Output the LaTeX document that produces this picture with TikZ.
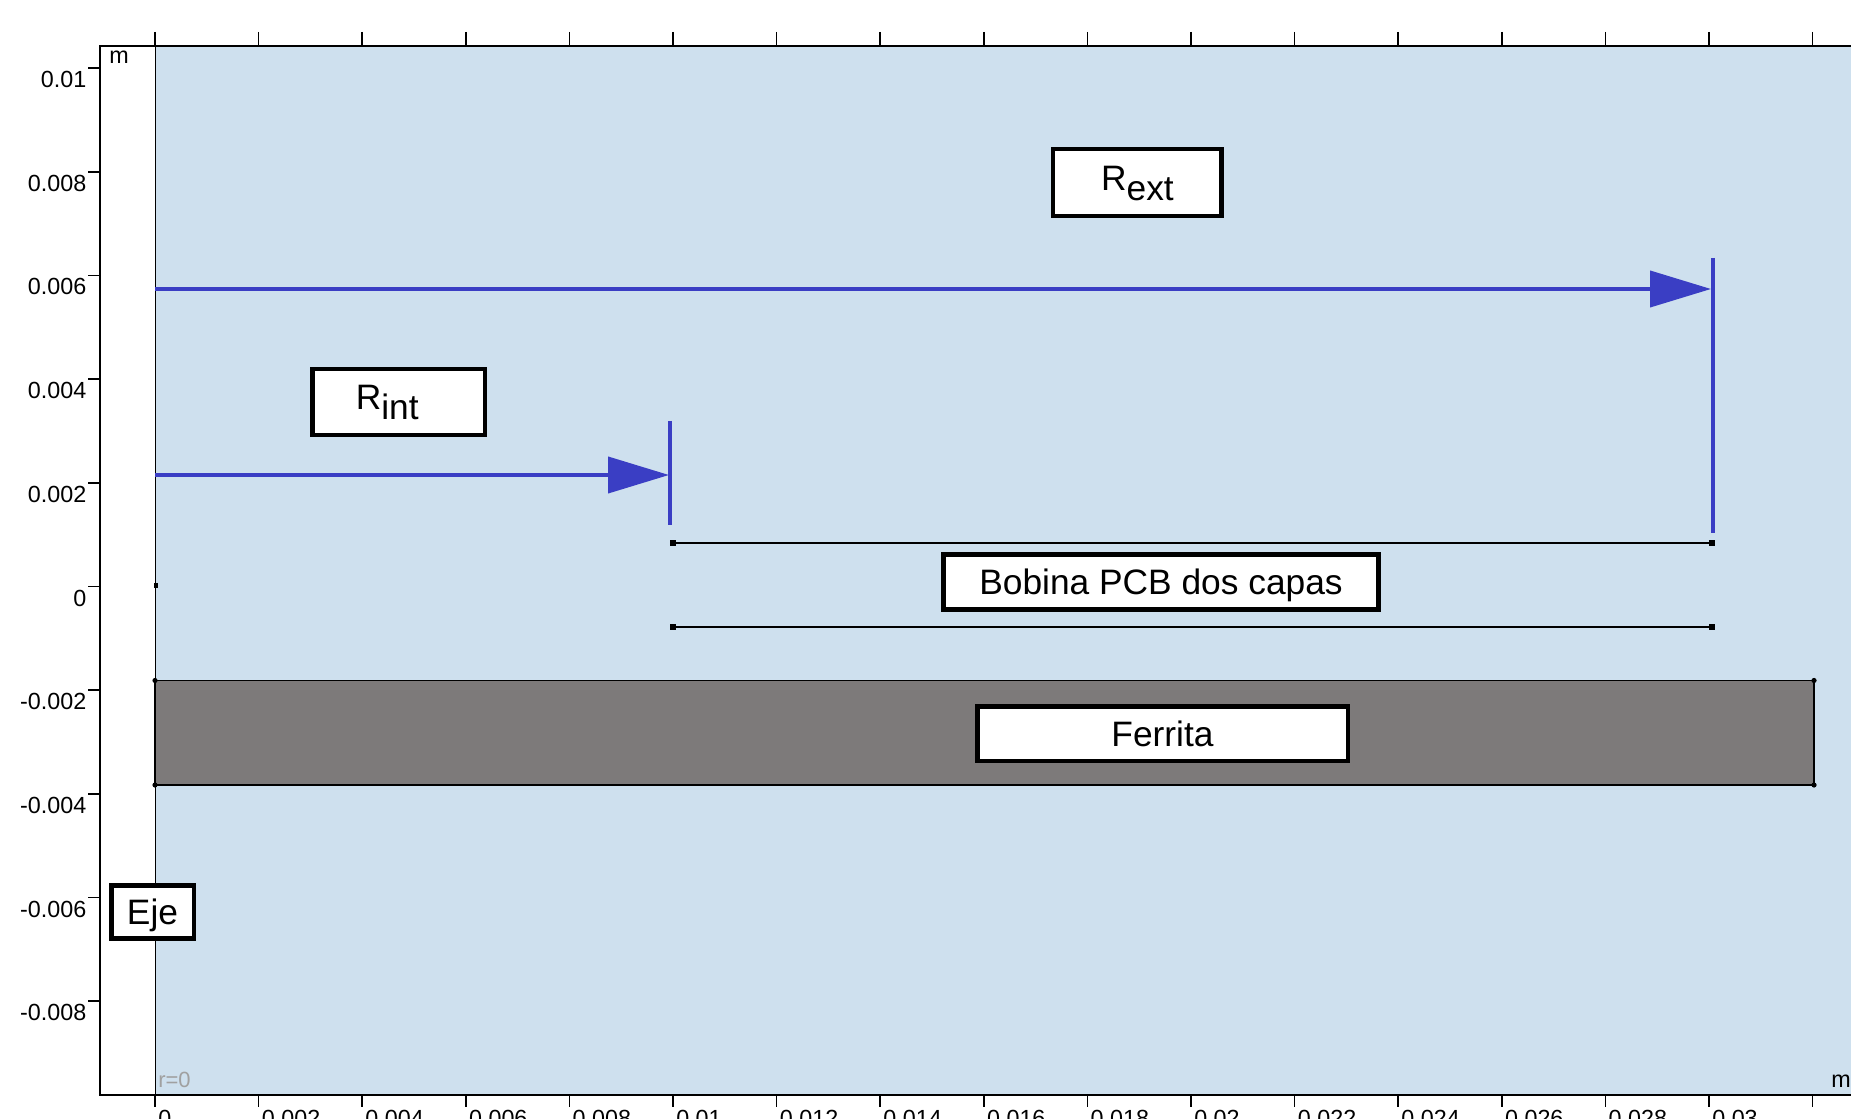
\documentclass[tikz,border=0pt]{standalone}
\usepackage{fontspec}
\setmainfont{Liberation Sans}
\usetikzlibrary{arrows.meta}
\definecolor{bgblue}{RGB}{206,224,238}
\definecolor{ferrgray}{RGB}{125,122,122}
\definecolor{arrblue}{RGB}{58,62,196}
\definecolor{gridgray}{RGB}{160,160,160}
\begin{document}
\begin{tikzpicture}[x=0.75pt,y=-0.75pt,
  axisline/.style={black,line width=1.3pt},
  ticklbl/.style={inner sep=0pt,font=\fontsize{17.5}{19}\selectfont},
  lbl/.style={draw=black,line width=3.4pt,fill=white,inner sep=0pt,
    font=\fontsize{26.5}{30}\selectfont,text height=19pt,text depth=0pt},
  dimarrow/.style={arrblue,line width=3pt,-{Triangle[length=45.75pt,width=27pt]}},
  dimbar/.style={arrblue,line width=3pt},
  coil/.style={black,line width=1.4pt},
  enddot/.style={black}]
\useasboundingbox (0,0) rectangle (1851,1119);
\fill[white] (0,0) rectangle (1851,1119);
% domain
\fill[bgblue] (155,45.7) rectangle (1851,1095);
% ferrite
\draw[fill=ferrgray,line width=1.2pt] (155,680.5) rectangle (1814,785);
\foreach \p in {(155,680.5),(155,785),(1814,680.5),(1814,785)}
  \fill[enddot] \p circle (2.6);
% frame
\draw[axisline] (1851,45.7) -- (100,45.7) -- (100,1095) -- (1851,1095);
\draw[axisline] (155.5,45.7) -- (155.5,1095);
\fill[black] (154,583) rectangle (158,588);
% ticks x
\foreach \k in {0,...,16}{
  \draw[axisline] ({155+103.6*\k},32) -- ({155+103.6*\k},45.7);
  \draw[axisline] ({155+103.6*\k},1095) -- ({155+103.6*\k},1107);
}
\foreach \k/\t in {0/0,1/0.002,2/0.004,3/0.006,4/0.008,5/0.01,6/0.012,7/0.014,8/0.016,9/0.018,10/0.02,11/0.022,12/0.024,13/0.026,14/0.028,15/0.03}
  \node[ticklbl,anchor=north west] (xl\k) at ({158+103.6*\k},1110) {\t};
% ticks y
\foreach \v/\t in {10/0.01,8/0.008,6/0.006,4/0.004,2/0.002,0/0,-2/-0.002,-4/-0.004,-6/-0.006,-8/-0.008}{
  \draw[axisline] (88,{586.5-51.85*\v}) -- (100,{586.5-51.85*\v});
  \node[ticklbl,anchor=north east] (yl\v) at (86.5,{589.5-51.85*\v}) {\t};
}
\node[ticklbl,anchor=base west] (unitY) at (109,64) {m};
\node[ticklbl,anchor=base west] (unitX) at (1831,1087) {m};
\node[ticklbl,anchor=base west,text=gridgray,font=\fontsize{16.5}{18}\selectfont] (rzero) at (158,1087) {r=0};
% coil lines
\coordinate (c1a) at (673,543);
\coordinate (c1b) at (1712,543);
\coordinate (c2a) at (673,627);
\coordinate (c2b) at (1712,627);
\draw[coil] (c1a) -- (c1b);
\draw[coil] (c2a) -- (c2b);
\foreach \c in {c1a,c1b,c2a,c2b}
  \fill[enddot] ([shift={(-2.6,-2.6)}]\c) rectangle ([shift={(2.6,2.6)}]\c);
% R ext
\coordinate (extS) at (155,289);
\coordinate (extE) at (1711,289);
\coordinate (extT) at (1712.5,258);
\coordinate (extB) at (1712.5,533);
\draw[dimbar] (extT) -- (extB);
\draw[dimarrow] (extS) -- (extE);
% R int
\coordinate (intS) at (155,475);
\coordinate (intE) at (669,475);
\coordinate (intT) at (670,421);
\coordinate (intB) at (670,525);
\draw[dimbar] (intT) -- (intB);
\draw[dimarrow] (intS) -- (intE);
% labels
\node[lbl,minimum width=126.4pt,minimum height=50.3pt,text depth=7.5pt] (rext) at (1137.4,182.5) {R\raisebox{-7.5pt}{ext}};
\node[lbl,minimum width=129.4pt,minimum height=49.5pt,text depth=7.5pt] (rint) at (398.5,402) {R\raisebox{-7.5pt}{int}\hspace*{17pt}};
\node[lbl,minimum width=61.9pt,minimum height=40.1pt] (eje) at (152.5,912) {Eje};
\node[lbl,minimum width=326.6pt,minimum height=41.6pt] (bobina) at (1161,582) {Bobina PCB dos capas};
\node[lbl,minimum width=277.9pt,minimum height=41.1pt] (ferrita) at (1162.5,733.7) {Ferrita};
\end{tikzpicture}
\end{document}
